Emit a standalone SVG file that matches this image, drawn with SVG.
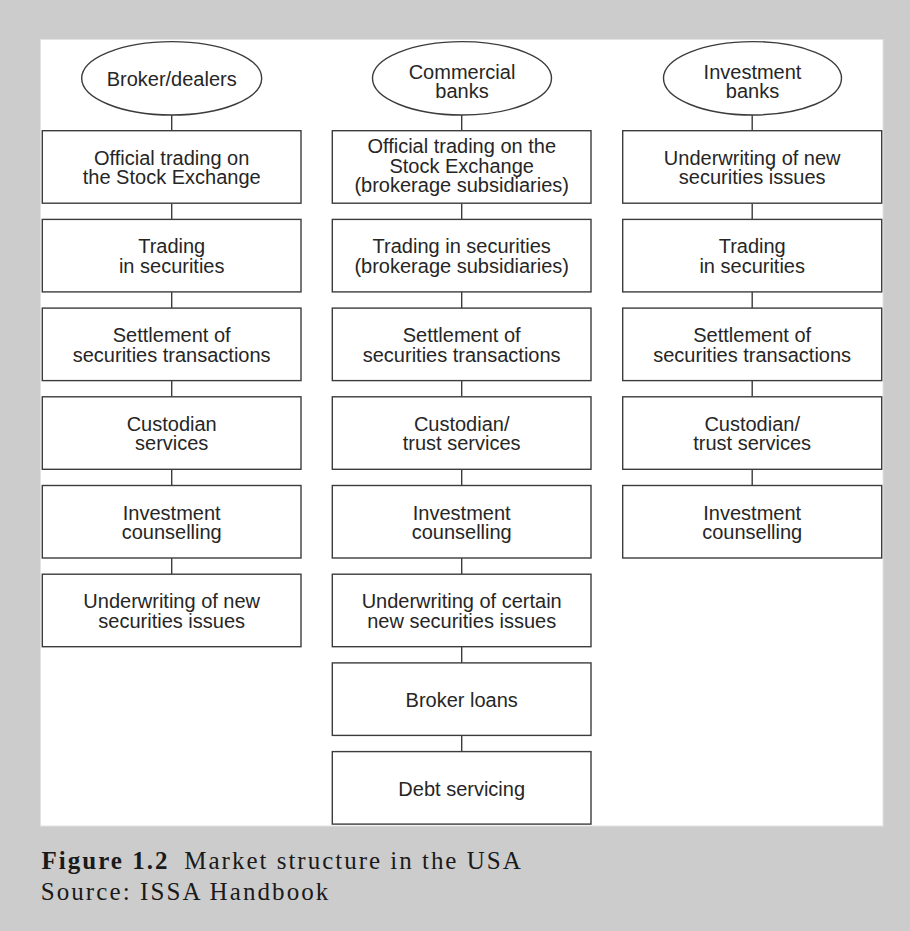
<svg xmlns="http://www.w3.org/2000/svg" width="910" height="931" viewBox="0 0 910 931">
<style>
.bg{fill:#cccccc}
.panel{fill:#ffffff;stroke:#e2e2e2;stroke-width:1}
.box{fill:#ffffff;stroke:#3c3c3c;stroke-width:1.4}
.oval{fill:#ffffff;stroke:#3c3c3c;stroke-width:1.4}
.conn line{stroke:#3c3c3c;stroke-width:1.4}
.t{font-family:"Liberation Sans",Arial,Helvetica,sans-serif;font-size:20px;fill:#262626;text-anchor:middle}
.cap{font-family:"Liberation Serif","Times New Roman",serif;font-size:25px;fill:#1a1a1a}
.b{font-weight:bold}
</style>
<rect class="bg" x="0" y="0" width="910" height="931"/>
<rect class="panel" x="40.5" y="39.5" width="842.5" height="786.5"/>

<g id="connectors" class="conn">
<line x1="171.7" y1="115" x2="171.7" y2="130.7"/>
<line x1="171.7" y1="203.2" x2="171.7" y2="219.4"/>
<line x1="171.7" y1="291.9" x2="171.7" y2="308.1"/>
<line x1="171.7" y1="380.6" x2="171.7" y2="396.8"/>
<line x1="171.7" y1="469.3" x2="171.7" y2="485.5"/>
<line x1="171.7" y1="558" x2="171.7" y2="574.2"/>
<line x1="461.7" y1="115" x2="461.7" y2="130.7"/>
<line x1="461.7" y1="203.2" x2="461.7" y2="219.4"/>
<line x1="461.7" y1="291.9" x2="461.7" y2="308.1"/>
<line x1="461.7" y1="380.6" x2="461.7" y2="396.8"/>
<line x1="461.7" y1="469.3" x2="461.7" y2="485.5"/>
<line x1="461.7" y1="558" x2="461.7" y2="574.2"/>
<line x1="461.7" y1="646.7" x2="461.7" y2="662.9"/>
<line x1="461.7" y1="735.4" x2="461.7" y2="751.6"/>
<line x1="752.2" y1="115" x2="752.2" y2="130.7"/>
<line x1="752.2" y1="203.2" x2="752.2" y2="219.4"/>
<line x1="752.2" y1="291.9" x2="752.2" y2="308.1"/>
<line x1="752.2" y1="380.6" x2="752.2" y2="396.8"/>
<line x1="752.2" y1="469.3" x2="752.2" y2="485.5"/>
</g>

<!-- Left column -->
<g id="broker-dealers">
<ellipse class="oval" cx="171.7" cy="78.3" rx="90" ry="36.7"/>
<text class="t" x="171.7" y="85.5">Broker/dealers</text>
</g>
<g id="bd-official">
<rect class="box" x="42.3" y="130.7" width="258.7" height="72.5"/>
<text class="t" x="171.7" y="164.7">Official trading on</text>
<text class="t" x="171.7" y="184.2">the Stock Exchange</text>
</g>
<g id="bd-trading">
<rect class="box" x="42.3" y="219.4" width="258.7" height="72.5"/>
<text class="t" x="171.7" y="253.4">Trading</text>
<text class="t" x="171.7" y="272.9">in securities</text>
</g>
<g id="bd-settlement">
<rect class="box" x="42.3" y="308.1" width="258.7" height="72.5"/>
<text class="t" x="171.7" y="342.1">Settlement of</text>
<text class="t" x="171.7" y="361.6">securities transactions</text>
</g>
<g id="bd-custodian">
<rect class="box" x="42.3" y="396.8" width="258.7" height="72.5"/>
<text class="t" x="171.7" y="430.8">Custodian</text>
<text class="t" x="171.7" y="450.3">services</text>
</g>
<g id="bd-counselling">
<rect class="box" x="42.3" y="485.5" width="258.7" height="72.5"/>
<text class="t" x="171.7" y="519.5">Investment</text>
<text class="t" x="171.7" y="539">counselling</text>
</g>
<g id="bd-underwriting">
<rect class="box" x="42.3" y="574.2" width="258.7" height="72.5"/>
<text class="t" x="171.7" y="608.2">Underwriting of new</text>
<text class="t" x="171.7" y="627.7">securities issues</text>
</g>

<!-- Middle column -->
<g id="commercial-banks">
<ellipse class="oval" cx="462" cy="78.3" rx="89.5" ry="36.7"/>
<text class="t" x="462" y="79.3">Commercial</text>
<text class="t" x="462" y="97.6">banks</text>
</g>
<g id="cb-official">
<rect class="box" x="332.3" y="130.7" width="258.7" height="72.5"/>
<text class="t" x="461.7" y="153.3">Official trading on the</text>
<text class="t" x="461.7" y="172.8">Stock Exchange</text>
<text class="t" x="461.7" y="192.3">(brokerage subsidiaries)</text>
</g>
<g id="cb-trading">
<rect class="box" x="332.3" y="219.4" width="258.7" height="72.5"/>
<text class="t" x="461.7" y="253.4">Trading in securities</text>
<text class="t" x="461.7" y="272.9">(brokerage subsidiaries)</text>
</g>
<g id="cb-settlement">
<rect class="box" x="332.3" y="308.1" width="258.7" height="72.5"/>
<text class="t" x="461.7" y="342.1">Settlement of</text>
<text class="t" x="461.7" y="361.6">securities transactions</text>
</g>
<g id="cb-custodian">
<rect class="box" x="332.3" y="396.8" width="258.7" height="72.5"/>
<text class="t" x="461.7" y="430.8">Custodian/</text>
<text class="t" x="461.7" y="450.3">trust services</text>
</g>
<g id="cb-counselling">
<rect class="box" x="332.3" y="485.5" width="258.7" height="72.5"/>
<text class="t" x="461.7" y="519.5">Investment</text>
<text class="t" x="461.7" y="539">counselling</text>
</g>
<g id="cb-underwriting">
<rect class="box" x="332.3" y="574.2" width="258.7" height="72.5"/>
<text class="t" x="461.7" y="608.2">Underwriting of certain</text>
<text class="t" x="461.7" y="627.7">new securities issues</text>
</g>
<g id="cb-broker-loans">
<rect class="box" x="332.3" y="662.9" width="258.7" height="72.5"/>
<text class="t" x="461.7" y="707.3">Broker loans</text>
</g>
<g id="cb-debt">
<rect class="box" x="332.3" y="751.6" width="258.7" height="72.5"/>
<text class="t" x="461.7" y="796">Debt servicing</text>
</g>

<!-- Right column -->
<g id="investment-banks">
<ellipse class="oval" cx="752.5" cy="78.3" rx="89" ry="36.7"/>
<text class="t" x="752.5" y="79.3">Investment</text>
<text class="t" x="752.5" y="97.6">banks</text>
</g>
<g id="ib-underwriting">
<rect class="box" x="622.7" y="130.7" width="259" height="72.5"/>
<text class="t" x="752.2" y="164.7">Underwriting of new</text>
<text class="t" x="752.2" y="184.2">securities issues</text>
</g>
<g id="ib-trading">
<rect class="box" x="622.7" y="219.4" width="259" height="72.5"/>
<text class="t" x="752.2" y="253.4">Trading</text>
<text class="t" x="752.2" y="272.9">in securities</text>
</g>
<g id="ib-settlement">
<rect class="box" x="622.7" y="308.1" width="259" height="72.5"/>
<text class="t" x="752.2" y="342.1">Settlement of</text>
<text class="t" x="752.2" y="361.6">securities transactions</text>
</g>
<g id="ib-custodian">
<rect class="box" x="622.7" y="396.8" width="259" height="72.5"/>
<text class="t" x="752.2" y="430.8">Custodian/</text>
<text class="t" x="752.2" y="450.3">trust services</text>
</g>
<g id="ib-counselling">
<rect class="box" x="622.7" y="485.5" width="259" height="72.5"/>
<text class="t" x="752.2" y="519.5">Investment</text>
<text class="t" x="752.2" y="539">counselling</text>
</g>

<g id="caption">
<text class="cap b" x="41.5" y="869" textLength="126" lengthAdjust="spacing">Figure 1.2</text>
<text class="cap" x="184.3" y="869" textLength="336.4" lengthAdjust="spacing">Market structure in the USA</text>
<text class="cap" x="40.7" y="900" textLength="287.6" lengthAdjust="spacing">Source: ISSA Handbook</text>
</g>
</svg>
